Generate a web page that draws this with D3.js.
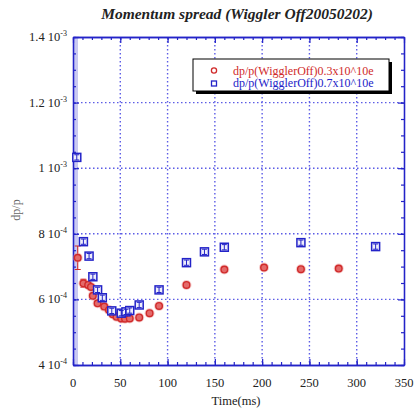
<!DOCTYPE html>
<html>
<head>
<meta charset="utf-8">
<script src="https://cdn.jsdelivr.net/npm/d3@7"></script>
<style>
  body { margin: 0; background: #fff; }
  svg { display: block; font-family: "Liberation Serif", "DejaVu Serif", serif; }
</style>
</head>
<body>
<div id="chart"></div>
<script>
// data (time in ms, dp/p)
const redTime = [5, 11, 16, 19, 21, 26, 33, 38, 42, 46, 51, 55, 60, 70, 81, 91, 120, 160, 202, 241, 281];
const redValue = [7.27e-4, 6.49e-4, 6.44e-4, 6.38e-4, 6.11e-4, 5.88e-4, 5.78e-4, 5.68e-4, 5.55e-4, 5.47e-4,
  5.42e-4, 5.41e-4, 5.42e-4, 5.45e-4, 5.58e-4, 5.80e-4, 6.44e-4, 6.91e-4, 6.97e-4, 6.92e-4, 6.94e-4];
const redError = [3.6e-5, 1.2e-5, 8e-6, 6e-6, 6e-6, 5e-6, 5e-6, 4e-6, 4e-6, 4e-6,
  4e-6, 4e-6, 4e-6, 4e-6, 4e-6, 4e-6, 4e-6, 4e-6, 4e-6, 4e-6, 4e-6];

const blueTime = [4, 11, 17, 21, 26, 31, 41, 51, 56, 60, 70, 91, 120, 139, 160, 241, 320];
const blueValue = [1.033e-3, 7.76e-4, 7.32e-4, 6.69e-4, 6.29e-4, 6.05e-4, 5.65e-4, 5.58e-4, 5.62e-4, 5.66e-4,
  5.83e-4, 6.29e-4, 7.12e-4, 7.45e-4, 7.59e-4, 7.73e-4, 7.61e-4];
const blueError = [8e-6, 8e-6, 8e-6, 8e-6, 8e-6, 8e-6, 8e-6, 8e-6, 8e-6, 8e-6,
  8e-6, 8e-6, 8e-6, 8e-6, 8e-6, 8e-6, 8e-6];

const xTicks = [0, 50, 100, 150, 200, 250, 300, 350];
const yTicks = [4e-4, 6e-4, 8e-4, 1e-3, 1.2e-3, 1.4e-3];
const legendLabels = ["dp/p(WigglerOff)0.3x10^10e", "dp/p(WigglerOff)0.7x10^10e"];

const width = 414;
const height = 409;
const red = "#d02a2a";
const blue = "#2323c8";

const x = d3.scaleLinear().domain([0, 350]).range([73, 404]);
const y = d3.scaleLinear().domain([4e-4, 1.4e-3]).range([365, 37]);

const svg = d3.select("#chart")
  .append("svg")
    .attr("width", width)
    .attr("height", height);

// title
svg.append("text")
    .attr("x", 237)
    .attr("y", 19)
    .attr("text-anchor", "middle")
    .style("font-size", "15.5px")
    .style("font-weight", "bold")
    .style("font-style", "italic")
    .attr("fill", "#222")
    .text("Momentum spread (Wiggler Off20050202)");

// light band along the left axis
svg.append("rect")
    .attr("x", x(0))
    .attr("y", y(1.4e-3))
    .attr("width", 5)
    .attr("height", y(4e-4) - y(1.4e-3))
    .attr("fill", "#c9c9f2");

// dotted grid
const grid = svg.append("g")
    .attr("stroke", "#5c5ce6")
    .attr("stroke-width", 1.4)
    .attr("stroke-dasharray", "1.5,2.5");

grid.selectAll(".gx")
  .data(xTicks.slice(1, -1))
  .join("line")
    .attr("x1", d => x(d)).attr("x2", d => x(d))
    .attr("y1", y(1.4e-3)).attr("y2", y(4e-4));

grid.selectAll(".gy")
  .data(yTicks.slice(1, -1))
  .join("line")
    .attr("x1", x(0)).attr("x2", x(350))
    .attr("y1", d => y(d)).attr("y2", d => y(d));

// axes with inward ticks
const minorX = d3.range(0, 351, 10);
const minorY = d3.range(4e-4, 1.4001e-3, 0.5e-4);

const axisStyle = g => {
  g.select(".domain").attr("stroke", blue).attr("stroke-width", 1.3);
  g.selectAll(".tick line").attr("stroke", blue).attr("stroke-width", 1.2);
  g.selectAll(".tick text").remove();
};

svg.append("g")
    .attr("transform", `translate(0,${y(4e-4)})`)
    .call(d3.axisBottom(x).tickValues(minorX).tickSize(-3).tickSizeOuter(0))
    .call(axisStyle);
svg.append("g")
    .attr("transform", `translate(0,${y(4e-4)})`)
    .call(d3.axisBottom(x).tickValues(xTicks).tickSize(-6).tickSizeOuter(0))
    .call(axisStyle);
svg.append("g")
    .attr("transform", `translate(0,${y(1.4e-3)})`)
    .call(d3.axisTop(x).tickValues(minorX).tickSize(-3).tickSizeOuter(0))
    .call(axisStyle);
svg.append("g")
    .attr("transform", `translate(0,${y(1.4e-3)})`)
    .call(d3.axisTop(x).tickValues(xTicks).tickSize(-6).tickSizeOuter(0))
    .call(axisStyle);
svg.append("g")
    .attr("transform", `translate(${x(0)},0)`)
    .call(d3.axisLeft(y).tickValues(minorY).tickSize(-3).tickSizeOuter(0))
    .call(axisStyle);
svg.append("g")
    .attr("transform", `translate(${x(0)},0)`)
    .call(d3.axisLeft(y).tickValues(yTicks).tickSize(-6).tickSizeOuter(0))
    .call(axisStyle);
svg.append("g")
    .attr("transform", `translate(${x(350)},0)`)
    .call(d3.axisRight(y).tickValues(minorY).tickSize(-3).tickSizeOuter(0))
    .call(axisStyle);
svg.append("g")
    .attr("transform", `translate(${x(350)},0)`)
    .call(d3.axisRight(y).tickValues(yTicks).tickSize(-6).tickSizeOuter(0))
    .call(axisStyle);

// tick labels
svg.append("g")
  .selectAll("text")
  .data(xTicks)
  .join("text")
    .attr("x", d => x(d))
    .attr("y", 387)
    .attr("text-anchor", "middle")
    .style("font-size", "12.5px")
    .attr("fill", "#222")
    .text(d => d);

const yLabels = svg.append("g")
  .selectAll("text")
  .data(yTicks)
  .join("text")
    .attr("x", 67)
    .attr("y", d => y(d) + 4)
    .attr("text-anchor", "end")
    .style("font-size", "12.5px")
    .attr("fill", "#222");

yLabels.append("tspan")
    .text(d => {
      const [m] = d.toExponential().split("e");
      return `${+m} 10`;
    });
yLabels.append("tspan")
    .attr("dy", -5)
    .style("font-size", "8px")
    .text(d => d.toExponential().split("e")[1]);

// axis titles
svg.append("text")
    .attr("x", 236)
    .attr("y", 405)
    .attr("text-anchor", "middle")
    .style("font-size", "12.5px")
    .attr("fill", "#222")
    .text("Time(ms)");

svg.append("text")
    .attr("transform", "translate(20,210) rotate(-90)")
    .attr("text-anchor", "middle")
    .style("font-size", "12px")
    .attr("fill", "#666")
    .text("dp/p");

// data
const redData = redTime.map((t, i) => ({ t, v: redValue[i], e: redError[i] }));
const blueData = blueTime.map((t, i) => ({ t, v: blueValue[i], e: blueError[i] }));

// red error bars and circles
const redG = svg.append("g");
redG.selectAll(".err")
  .data(redData)
  .join("path")
    .attr("fill", "none")
    .attr("stroke", red)
    .attr("stroke-width", 1.1)
    .attr("d", d => {
      const cx = x(d.t), y0 = y(d.v - d.e), y1 = y(d.v + d.e);
      return `M${cx},${y0}V${y1}M${cx - 3},${y0}H${cx + 3}M${cx - 3},${y1}H${cx + 3}`;
    });
redG.selectAll(".halo")
  .data(redData)
  .join("circle")
    .attr("cx", d => x(d.t))
    .attr("cy", d => y(d.v))
    .attr("r", 5)
    .attr("fill", "#e88a8a")
    .attr("opacity", 0.45);
redG.selectAll(".pt")
  .data(redData)
  .join("circle")
    .attr("cx", d => x(d.t))
    .attr("cy", d => y(d.v))
    .attr("r", 3.3)
    .attr("fill", "#e46a6a")
    .attr("stroke", red)
    .attr("stroke-width", 1.4);

// blue squares with error bars
const blueG = svg.append("g");
blueG.selectAll(".sq")
  .data(blueData)
  .join("rect")
    .attr("x", d => x(d.t) - 4)
    .attr("y", d => y(d.v) - 4)
    .attr("width", 8)
    .attr("height", 8)
    .attr("fill", "#eeeefb")
    .attr("stroke", blue)
    .attr("stroke-width", 1.5);
blueG.selectAll(".err")
  .data(blueData)
  .join("path")
    .attr("fill", "none")
    .attr("stroke", blue)
    .attr("stroke-width", 1)
    .attr("d", d => {
      const cx = x(d.t), y0 = y(d.v - d.e), y1 = y(d.v + d.e);
      return `M${cx},${y0}V${y1}M${cx - 2.5},${y0}H${cx + 2.5}M${cx - 2.5},${y1}H${cx + 2.5}`;
    });

// legend
const legend = svg.append("g");
legend.append("rect")
    .attr("x", 196).attr("y", 62)
    .attr("width", 196).attr("height", 32)
    .attr("fill", "#000");
legend.append("rect")
    .attr("x", 193).attr("y", 59)
    .attr("width", 196).attr("height", 32)
    .attr("fill", "#fff")
    .attr("stroke", "#000")
    .attr("stroke-width", 1);
legend.append("circle")
    .attr("cx", 214).attr("cy", 70.5)
    .attr("r", 2.6)
    .attr("fill", "none")
    .attr("stroke", red)
    .attr("stroke-width", 1.3);
legend.append("rect")
    .attr("x", 211.5).attr("y", 81)
    .attr("width", 5).attr("height", 5)
    .attr("fill", "none")
    .attr("stroke", blue)
    .attr("stroke-width", 1.3);
legend.selectAll(".lt")
  .data(legendLabels)
  .join("text")
    .attr("x", 233)
    .attr("y", (d, i) => 74.5 + i * 12.5)
    .style("font-size", "12px")
    .attr("fill", (d, i) => i === 0 ? red : blue)
    .text(d => d);
</script>
</body>
</html>
